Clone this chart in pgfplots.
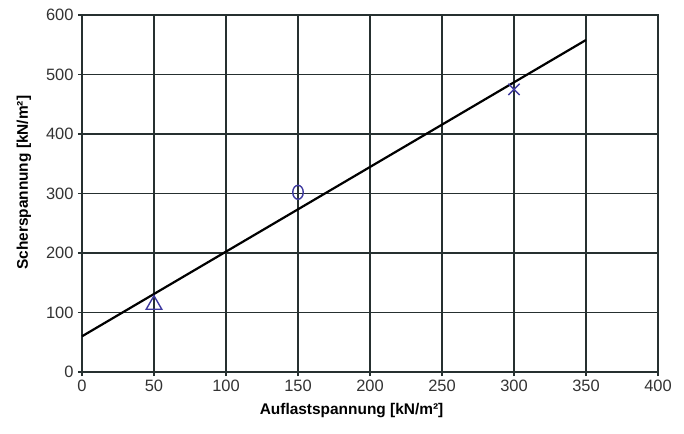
\documentclass[border=0pt]{standalone}
\usepackage{pgfplots}
\pgfplotsset{compat=1.18}
\usepackage{fontspec}
\setmainfont{Liberation Sans}
\definecolor{gridc}{HTML}{263030}
\definecolor{markc}{HTML}{3F3AA0}
\definecolor{tickc}{HTML}{333333}
\begin{document}
\begin{tikzpicture}
\useasboundingbox (-82bp,-62bp) rectangle (602bp,372bp);
\begin{axis}[
  scale only axis,
  width=576bp, height=357bp,
  xmin=0, xmax=400, ymin=0, ymax=600,
  xtick={0,50,...,400}, ytick={0,100,...,600},
  grid=major,
  major grid style={gridc, line width=1.8bp},
  axis line style={gridc, line width=1.8bp},
  tick style={gridc, line width=1.2bp},
  tick align=outside, major tick length=4bp,
  xtick pos=bottom, ytick pos=left,
  /pgf/number format/assume math mode=true,
  ticklabel style={font=\fontsize{16.5}{18}\selectfont, text=tickc},
  xticklabel style={yshift=-1bp},
  yticklabel style={xshift=-1bp},
  xlabel={\textbf{Auflastspannung [kN/m²]}},
  ylabel={\textbf{Scherspannung [kN/m²]}},
  label style={font=\fontsize{15.5}{18}\selectfont, text=black},
  xlabel style={at={(axis description cs:0.468,-0.107)}, anchor=center},
  ylabel style={at={(axis description cs:-0.101,0.53)}, anchor=center},
  clip=false,
]
\addplot[black, line width=2.2bp] coordinates {(0,60) (350,558)};
\addplot[only marks, mark=triangle, mark size=9bp, markc, line width=1.4bp] coordinates {(50,113)};
\addplot[only marks, mark=o, mark size=7bp, markc, line width=1.4bp, mark options={xscale=0.75}] coordinates {(150,302)};
\addplot[only marks, mark=x, mark size=8bp, markc, line width=1.4bp] coordinates {(300,475)};
\end{axis}
\end{tikzpicture}
\end{document}
